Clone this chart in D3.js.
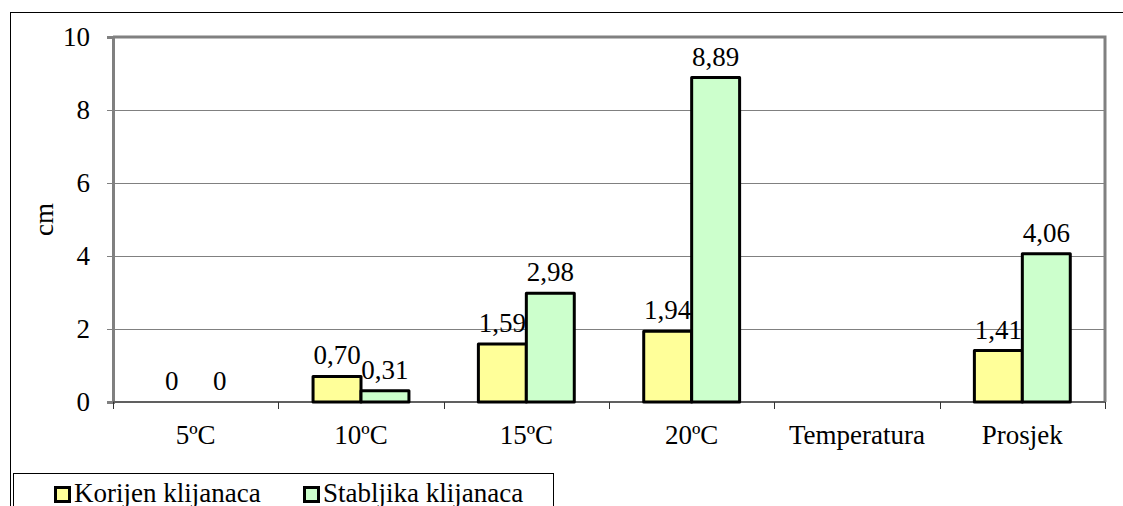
<!DOCTYPE html>
<html>
<head>
<meta charset="utf-8">
<script src="https://cdn.jsdelivr.net/npm/d3@7"></script>
</head>
<body style="margin:0;padding:0;background:#fff">
<div id="chart"></div>
<script>
const categories = ["5ºC", "10ºC", "15ºC", "20ºC", "Temperatura", "Prosjek"];
const korijen = [0, 0.70, 1.59, 1.94, null, 1.41];
const stabljika = [0, 0.31, 2.98, 8.89, null, 4.06];
const seriesNames = ["Korijen klijanaca", "Stabljika klijanaca"];
const seriesColors = ["#FFFF99", "#CCFFCC"];
const yTicks = [0, 2, 4, 6, 8, 10];

const width = 1123;
const height = 506;
const margin = { top: 37, right: 18, bottom: 104, left: 113 };
const fontSize = 27;
const serif = '"Liberation Serif", "Times New Roman", Tinos, serif';

const series = [korijen, stabljika];
const rows = categories.map((c, i) => ({
  category: c,
  values: series.map((s, j) => ({ key: j, value: s[i] })),
}));

const svg = d3.select("#chart")
  .append("svg")
  .attr("width", width)
  .attr("height", height)
  .style("display", "block")
  .style("font-family", serif);

// outer chart border
svg.append("rect")
  .attr("x", 10.5).attr("y", 12.5)
  .attr("width", width + 20).attr("height", height + 20)
  .attr("fill", "none").attr("stroke", "#000").attr("stroke-width", 1);

const x0 = d3.scaleBand()
  .domain(categories)
  .range([margin.left, width - margin.right])
  .paddingInner(0.42)
  .paddingOuter(0.21);

const x1 = d3.scaleBand()
  .domain([0, 1])
  .range([0, x0.bandwidth()]);

const y = d3.scaleLinear()
  .domain([0, 10])
  .range([height - margin.bottom, margin.top]);

const left = margin.left;
const right = width - margin.right;

// gridlines
svg.append("g")
  .selectAll("line")
  .data(yTicks.filter((t) => t > 0 && t < 10))
  .join("line")
  .attr("x1", left).attr("x2", right)
  .attr("y1", (d) => y(d) + 0.5).attr("y2", (d) => y(d) + 0.5)
  .attr("stroke", "#808080").attr("stroke-width", 1);

// plot frame (top + right)
svg.append("path")
  .attr("d", `M${left},${y(10)}H${right}V${y(0)}`)
  .attr("fill", "none").attr("stroke", "#808080").attr("stroke-width", 3);

// y axis
const yAxis = svg.append("g")
  .attr("transform", `translate(${left},0)`)
  .call(d3.axisLeft(y).tickValues(yTicks).tickSize(6).tickPadding(17).tickFormat(d3.format("d")));
yAxis.attr("font-family", null).attr("font-size", null);
yAxis.select(".domain").attr("stroke", "#808080").attr("stroke-width", 3);
yAxis.selectAll(".tick line").attr("stroke", "#808080");
yAxis.selectAll(".tick text")
  .style("font-family", serif)
  .attr("font-size", fontSize)
  .attr("fill", "#000");

// x axis
const xAxisG = svg.append("g")
  .attr("transform", `translate(0,${y(0)})`);
xAxisG.append("line")
  .attr("x1", left).attr("x2", right)
  .attr("stroke", "#606060").attr("stroke-width", 2);
const step = x0.step();
xAxisG.selectAll(".xtick")
  .data(d3.range(categories.length + 1))
  .join("line")
  .attr("class", "xtick")
  .attr("x1", (i) => Math.round(left + i * step) + 0.5)
  .attr("x2", (i) => Math.round(left + i * step) + 0.5)
  .attr("y1", 0).attr("y2", 7)
  .attr("stroke", "#333").attr("stroke-width", 1);
xAxisG.selectAll(".xlabel")
  .data(categories)
  .join("text")
  .attr("class", "xlabel")
  .attr("x", (d) => x0(d) + x0.bandwidth() / 2)
  .attr("y", 42)
  .attr("text-anchor", "middle")
  .attr("font-size", fontSize)
  .style("font-family", serif)
  .text((d) => d);

// y title
svg.append("text")
  .attr("transform", `translate(53,${(y(0) + y(10)) / 2}) rotate(-90)`)
  .attr("text-anchor", "middle")
  .attr("font-size", fontSize)
  .style("font-family", serif)
  .text("cm");

// bars
const groups = svg.append("g")
  .selectAll("g")
  .data(rows)
  .join("g")
  .attr("transform", (d) => `translate(${x0(d.category)},0)`);

groups.selectAll("rect")
  .data((d) => d.values.filter((v) => v.value))
  .join("rect")
  .attr("x", (d) => x1(d.key))
  .attr("y", (d) => y(d.value))
  .attr("width", x1.bandwidth())
  .attr("height", (d) => y(0) - y(d.value))
  .attr("fill", (d) => seriesColors[d.key])
  .attr("stroke", "#000")
  .attr("stroke-width", 3)
  .attr("stroke-linejoin", "round");

const fmt = (v) => (v === 0 ? "0" : v.toFixed(2).replace(".", ","));

groups.selectAll("text")
  .data((d) => d.values.filter((v) => v.value !== null))
  .join("text")
  .attr("x", (d) => x1(d.key) + x1.bandwidth() / 2)
  .attr("y", (d) => y(d.value) - 12)
  .attr("text-anchor", "middle")
  .attr("font-size", fontSize)
  .style("font-family", serif)
  .text((d) => fmt(d.value));

// legend
const legend = svg.append("g");
legend.append("rect")
  .attr("x", 13.5).attr("y", 473.5)
  .attr("width", 540).attr("height", 60)
  .attr("fill", "#fff").attr("stroke", "#000").attr("stroke-width", 1);

const legendX = [54, 303];
const items = legend.selectAll(".item")
  .data(seriesNames)
  .join("g")
  .attr("class", "item")
  .attr("transform", (d, i) => `translate(${legendX[i]},0)`);
items.append("rect")
  .attr("x", 1.5).attr("y", 487.5)
  .attr("width", 14).attr("height", 14)
  .attr("fill", (d, i) => seriesColors[i])
  .attr("stroke", "#000").attr("stroke-width", 3);
items.append("text")
  .attr("x", 20).attr("y", 502)
  .attr("font-size", fontSize)
  .style("font-family", serif)
  .text((d) => d);
</script>
</body>
</html>
